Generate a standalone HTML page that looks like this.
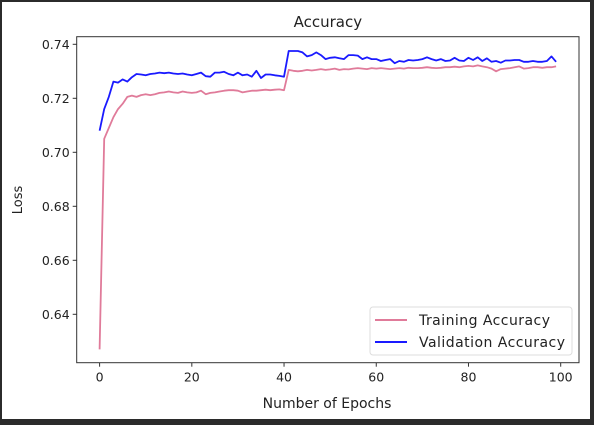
<!DOCTYPE html>
<html><head><meta charset="utf-8"><style>
body{margin:0;background:#2b2b2b;width:594px;height:425px;overflow:hidden}
svg{display:block}
text{font-family:"DejaVu Sans","Liberation Sans",sans-serif;fill:#222}
</style></head><body>
<svg width="594" height="425">
<rect x="2" y="2" width="588" height="417" fill="#fff"/>
<g id="plot"></g>
</svg>
<script>
const epochs=[...Array(100).keys()];
const trainAcc=[0.627,0.705,0.709,0.713,0.716,0.718,0.7205,0.721,0.7205,0.7212,0.7215,0.7212,0.7215,0.722,0.7222,0.7225,0.7222,0.722,0.7225,0.7222,0.722,0.7222,0.7228,0.7215,0.722,0.7222,0.7225,0.7228,0.723,0.723,0.7228,0.7222,0.7225,0.7228,0.7228,0.723,0.7232,0.723,0.7232,0.7233,0.723,0.7305,0.7302,0.730,0.7302,0.7305,0.7303,0.7305,0.7308,0.7305,0.7307,0.731,0.7305,0.7308,0.7307,0.731,0.7312,0.731,0.7308,0.7312,0.731,0.7312,0.731,0.7308,0.731,0.7312,0.731,0.7313,0.7312,0.7312,0.7313,0.7315,0.7313,0.7312,0.7313,0.7315,0.7315,0.7317,0.7315,0.7318,0.732,0.7318,0.7322,0.7318,0.7315,0.731,0.730,0.7308,0.731,0.7312,0.7315,0.7318,0.731,0.7312,0.7315,0.7315,0.7313,0.7315,0.7315,0.7318];
const valAcc=[0.708,0.716,0.7205,0.7262,0.7258,0.727,0.7262,0.7278,0.729,0.7288,0.7285,0.729,0.7292,0.7295,0.7293,0.7295,0.7292,0.729,0.7292,0.7288,0.7285,0.729,0.7295,0.7282,0.728,0.7295,0.7295,0.7298,0.729,0.7285,0.7295,0.7285,0.7288,0.728,0.7302,0.7275,0.7288,0.7288,0.7285,0.7283,0.728,0.7375,0.7375,0.7375,0.737,0.7355,0.736,0.737,0.736,0.7345,0.735,0.7352,0.7348,0.7345,0.736,0.736,0.7358,0.7345,0.7352,0.7345,0.7345,0.7338,0.7342,0.7345,0.733,0.7338,0.7335,0.7342,0.734,0.7342,0.7345,0.7352,0.7345,0.734,0.7345,0.7338,0.734,0.735,0.734,0.7338,0.735,0.7342,0.7352,0.7338,0.7348,0.7335,0.7338,0.7332,0.734,0.734,0.7342,0.7342,0.7335,0.7335,0.7338,0.7335,0.7335,0.7338,0.7355,0.7335];
const xTicks=[0,20,40,60,80,100];
const yTicks=[0.64,0.66,0.68,0.70,0.72,0.74];
const NS="http://www.w3.org/2000/svg";
const L=76.7,R=579,T=36.7,B=362.7;
const xs=v=>99.6+v*4.611;
const ys=v=>44.3+(0.74-v)*2700;
const g=document.getElementById('plot');
function mk(tag,attrs,parent){const e=document.createElementNS(NS,tag);for(const k in attrs)e.setAttribute(k,attrs[k]);(parent||g).appendChild(e);return e;}
let e;
e=mk('text',{x:(L+R)/2,y:27,'text-anchor':'middle','font-size':'15'});e.textContent='Accuracy';


e=mk('text',{x:327,y:408,'text-anchor':'middle','font-size':'14'});e.textContent='Number of Epochs';


e=mk('text',{x:0,y:0,'text-anchor':'middle','font-size':'13',transform:'translate(22,200) rotate(-90)'});e.textContent='Loss';


xTicks.forEach(t=>{const x=xs(t);
 e=mk('line',{x1:x,x2:x,y1:B,y2:B+4,stroke:'#333'});
 
 
 e=mk('text',{x:x,y:B+19,'text-anchor':'middle','font-size':'12.5'});e.textContent=t;
 
 });
yTicks.forEach(t=>{const y=ys(t);
 e=mk('line',{x1:L-4,x2:L,y1:y,y2:y,stroke:'#333'});
 
 
 e=mk('text',{x:L-7,y:y+4.5,'text-anchor':'end','font-size':'12.5'});e.textContent=t.toFixed(2);
 
 });
function line(arr,color,name){const d=arr.map((v,i)=>(i?'L':'M')+xs(epochs[i]).toFixed(1)+','+ys(v).toFixed(1)).join('');
 e=mk('path',{d:d,fill:'none',stroke:color,'stroke-width':'1.8','stroke-linejoin':'round'});
 
 }
line(trainAcc,'#e07b9a','training-accuracy-line');
line(valAcc,'#1a1aff','validation-accuracy-line');
e=mk('rect',{x:L,y:T,width:R-L,height:B-T,fill:'none',stroke:'#333','stroke-width':'1'});


const lg=mk('g',{});


mk('rect',{x:370,y:307,width:202,height:48,rx:3,fill:'#fff',stroke:'#ddd'},lg);
mk('line',{x1:375,x2:407,y1:320,y2:320,stroke:'#e07b9a','stroke-width':'2'},lg);
e=mk('text',{x:419,y:325,'font-size':'14','textLength':'131'},lg);e.textContent='Training Accuracy';


mk('line',{x1:375,x2:407,y1:342,y2:342,stroke:'#1a1aff','stroke-width':'2'},lg);
e=mk('text',{x:419,y:347,'font-size':'14','textLength':'146'},lg);e.textContent='Validation Accuracy';


</script>
</body></html>
